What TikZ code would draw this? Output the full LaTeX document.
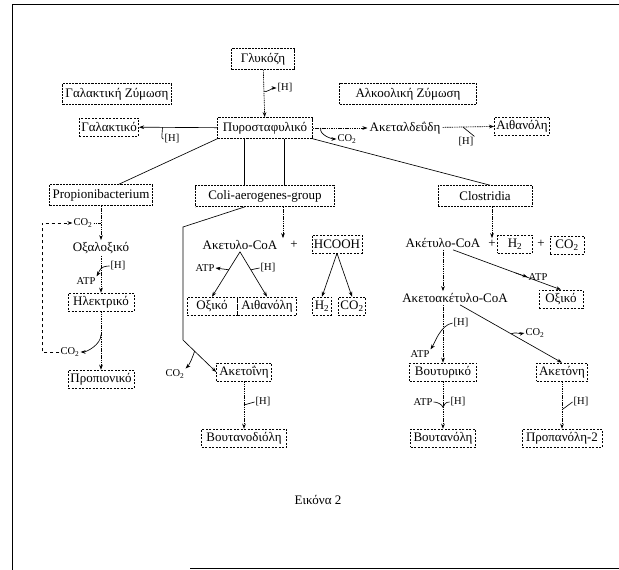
\documentclass[tikz,border=0pt]{standalone}
\usepackage{fontspec}
\setmainfont{Liberation Serif}
\usetikzlibrary{arrows.meta,calc}
\begin{document}
\begin{tikzpicture}[x=1pt,y=-1pt,
  base/.style={font=\fontsize{13}{15}\selectfont, inner sep=2pt},
  bx/.style={base, draw, dash pattern=on 2.2pt off 1pt, line width=0.6pt, minimum height=21pt, inner xsep=3pt},
  pbx/.style={base, draw, dash pattern=on 2pt off 1.5pt, line width=0.6pt, minimum height=18pt, inner xsep=2pt},
  lbl/.style={base},
  sm/.style={font=\fontsize{10.5}{12}\selectfont, inner sep=1pt},
  arr/.style={-{Stealth[length=5pt,width=3.6pt]}, line width=0.65pt},
  vl/.style={dash pattern=on 1.5pt off 0.8pt},
  ln/.style={line width=0.65pt}]
\useasboundingbox (0,0) rectangle (619,570);
% frame
\draw[line width=1pt] (12,570) -- (12,4) -- (619,4);
\draw[line width=0.8pt] (190,568) -- (619,568);

% top
\node[bx, minimum width=63pt] (glu) at (263,59) {Γλυκόζη};
\node[bx, minimum width=95pt] (galz) at (117,94) {Γαλακτική Ζύμωση};
\node[bx, minimum width=137pt] (alkz) at (408,94) {Αλκοολική Ζύμωση};
\node[bx, minimum width=95pt] (pyr) at (265,128) {Πυροσταφυλικό};
\node[pbx, minimum width=58pt] (gal) at (109,127) {Γαλακτικό};
\node[lbl] (acet) at (405,128) {Ακεταλδεΰδη};
\node[pbx, minimum width=55pt] (eth1) at (522,126) {Αιθανόλη};
\node[sm] (hG) at (285,88) {[H]};
\node[sm] (hL) at (172,139) {[H]};
\node[sm] (co2c) at (347,139) {CO\textsubscript{2}};
\node[sm] (hR) at (466,142) {[H]};

\draw[arr,vl] (glu) -- (pyr);
\draw[arr] ($(glu.south)!0.45!(pyr.north)$) .. controls +(2,2) and +(-4,0) .. (hG.west);
\draw[arr] (pyr) -- (gal);
\draw[ln] ($(pyr.west)!0.7!(gal.east)$) .. controls +(0,6) and +(-3,0) .. (hL.west);
\draw[arr,vl] (pyr) -- (acet);
\draw[arr] ([xshift=8pt]pyr.east) .. controls +(-2,7) and +(-4,0) .. (co2c.west);
\draw[arr,vl] (acet) -- (eth1);
\draw[ln] (hR.north east) -- ($(acet.east)!0.4!(eth1.west)$);

% groups
\node[bx, minimum width=99pt] (prop) at (101,195) {Propionibacterium};
\node[bx, minimum width=139pt] (coli) at (265,196) {Coli-aerogenes-group};
\node[bx, minimum width=94pt] (clos) at (485,196) {Clostridia};
\draw[ln] (pyr.south west) -- ([xshift=18pt]prop.north);
\draw[ln] ([xshift=-21pt]pyr.south) -- ([xshift=-21pt]coli.north);
\draw[ln] ([xshift=19pt]pyr.south) -- ([xshift=19pt]coli.north);
\draw[ln] (pyr.south east) -- ([xshift=5pt]clos.north);

% left branch
\node[sm] (co2a) at (83,223) {CO\textsubscript{2}};
\node[lbl] (oxal) at (101,248) {Οξαλοξικό};
\node[sm] (hA) at (118,266) {[H]};
\node[sm] (atpA) at (86,281) {ATP};
\node[pbx, minimum width=66pt] (ilek) at (101,302) {Ηλεκτρικό};
\node[sm] (co2b) at (70,352) {CO\textsubscript{2}};
\node[pbx, minimum width=66pt] (propk) at (101,379) {Προπιονικό};
\coordinate (lp1) at (42,223);
\coordinate (lp2) at (42,352);
\draw[arr,vl] (prop) -- (oxal);
\draw[vl] (co2a.east) -- (co2a.east -| prop.south);
\draw[arr,dashed] (co2b.west) -- (lp2) -- (lp1) -- (co2a.west);
\draw[arr,vl] (oxal) -- (ilek);
\draw[arr] (hA.west) .. controls +(-10,0) and +(3,-5) .. (atpA.north east);
\draw[arr,vl] (ilek) -- (propk);
\draw[arr] ($(ilek.south)!0.4!(propk.north)$) .. controls +(0,10) and +(6,0) .. (co2b.east);

% middle branch
\node[lbl] (akc) at (240,245) {Ακετυλο-CoA};
\node[lbl] (plus1) at (294,245) {+};
\node[pbx] (hcooh) at (337,244) {HCOOH};
\node[pbx, minimum width=50pt] (oxik) at (212,306) {Οξικό};
\node[pbx, minimum width=59pt] (eth2) at (267,306) {Αιθανόλη};
\node[sm] (atpB) at (205,268) {ATP};
\node[sm] (hB) at (268,268) {[H]};
\node[pbx] (h2a) at (322,306) {H\textsubscript{2}};
\node[pbx] (co2e) at (352,306) {CO\textsubscript{2}};
\draw[arr,vl] ([xshift=18pt]coli.south) -- ([xshift=18pt]coli.south |- akc.north);
\draw[arr] (akc.south) -- (oxik.north);
\draw[arr] (akc.south) -- (eth2.north);
\draw[arr] ($(akc.south)!0.4!(oxik.north)$) -- (atpB.east);
\draw[ln] ($(akc.south)!0.4!(eth2.north)$) -- (hB.west);
\draw[arr] (hcooh.south) -- (h2a.north);
\draw[arr] (hcooh.south) -- (co2e.north);

\node[pbx, minimum width=55pt] (akt) at (244,372) {Ακετοΐνη};
\node[sm] (co2d) at (175,374) {CO\textsubscript{2}};
\node[sm] (hC) at (263,402) {[H]};
\node[pbx, minimum width=85pt] (butd) at (244,438) {Βουτανοδιόλη};
\coordinate (c1) at (183,227);
\coordinate (c2) at (183,340);
\draw[arr] ([xshift=-20pt]coli.south) -- (c1) -- (c2) -- (akt.west);
\draw[arr] ($(c2)!0.35!(akt.west)$) .. controls +(-2,6) and +(4,-4) .. (co2d.north east);
\draw[arr,vl] (akt) -- (butd);
\draw[ln] ($(akt.south)!0.5!(butd.north)$) -- (hC.west);

% right branch
\node[lbl] (akc2) at (443,243) {Ακέτυλο-CoA};
\node[lbl] (plus2) at (492,244) {+};
\node[pbx, minimum width=35pt] (h2b) at (515,244) {H\textsubscript{2}};
\node[lbl] (plus3) at (541,244) {+};
\node[pbx, minimum width=34pt] (co2f) at (567,245) {CO\textsubscript{2}};
\draw[arr,vl] (clos.south -| plus2) -- (plus2.north);

\node[lbl] (aka) at (455,298) {Ακετοακέτυλο-CoA};
\node[pbx, minimum width=44pt] (oxik2) at (561,299) {Οξικό};
\node[sm] (atpC) at (538,277) {ATP};
\coordinate (d1s) at ([xshift=10pt]akc2.south);
\draw[arr,vl] (akc2.south) -- (akc2.south |- aka.north);
\draw[arr] (d1s) -- (oxik2.north);
\draw[arr,vl] ($(d1s)!0.58!(oxik2.north)$) -- (atpC.west);

\node[pbx, minimum width=67pt] (but) at (443,372) {Βουτυρικό};
\node[pbx, minimum width=51pt] (aketon) at (562,372) {Ακετόνη};
\node[sm] (hD) at (461,323) {[H]};
\node[sm] (atpD) at (420,354) {ATP};
\node[sm] (co2g) at (535,333) {CO\textsubscript{2}};
\coordinate (d2s) at ([xshift=5pt]aka.south);
\draw[arr,vl] (aka.south -| but.north) -- (but.north);
\draw[arr] (d2s) -- (aketon.north);
\draw[arr] ($(d2s)!0.5!(aketon.north)$) .. controls +(5,-2) and +(-5,1) .. (co2g.west);
\draw[arr] (hD.west) .. controls +(-12,2) and +(4,-6) .. (atpD.north east);

\node[sm] (atpE) at (423,402) {ATP};
\node[sm] (hE) at (458,402) {[H]};
\node[pbx, minimum width=65pt] (butol) at (443,438) {Βουτανόλη};
\draw[arr,vl] (but) -- (butol);
\draw[ln] (atpE.east) .. controls +(4,0) and +(-1,-3) .. ($(but.south)!0.55!(butol.north)$);
\draw[ln] (hE.west) .. controls +(-4,0) and +(1,-3) .. ($(but.south)!0.55!(butol.north)$);

\node[sm] (hF) at (581,402) {[H]};
\node[pbx, minimum width=80pt] (prop2) at (562,438) {Προπανόλη-2};
\draw[arr,vl] (aketon) -- (prop2);
\draw[ln] (hF.west) -- ($(aketon.south)!0.6!(prop2.north)$);

\node[lbl] (cap) at (318,500) {Εικόνα 2};
\end{tikzpicture}
\end{document}
